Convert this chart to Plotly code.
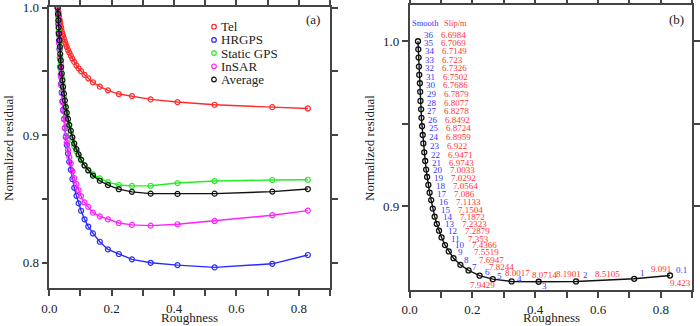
import plotly.graph_objects as go

# ---------------- data ----------------
smooth_labels = ["36", "35", "34", "33", "32", "31", "30", "29", "28", "27", "26", "25",
                 "24", "23", "22", "21", "20", "19", "18", "17", "16", "15", "14", "13",
                 "12", "11", "10", "9", "8", "7", "6", "5", "4", "3", "2", "1", "0.1"]
slip_labels = ["6.6984", "6.7069", "6.7149", "6.723", "6.7326", "6.7502", "6.7686", "6.7879",
               "6.8077", "6.8278", "6.8492", "6.8724", "6.8959", "6.922", "6.9471", "6.9743",
               "7.0033", "7.0292", "7.0564", "7.086", "7.1133", "7.1504", "7.1872", "7.2323",
               "7.2879", "7.353", "7.4366", "7.5519", "7.6947", "7.8244", "7.9429", "8.0017",
               "8.0714", "8.1901", "8.5105", "9.091", "9.423"]
roughness = [0.027, 0.028, 0.029, 0.030, 0.031, 0.033, 0.034, 0.035, 0.037, 0.038, 0.040, 0.042,
             0.044, 0.047, 0.050, 0.053, 0.056, 0.060, 0.064, 0.069, 0.074, 0.080, 0.087, 0.094,
             0.102, 0.113, 0.125, 0.140, 0.162, 0.188, 0.223, 0.265, 0.325, 0.411, 0.530, 0.715, 0.829]
tel = [1.0, 0.9983, 0.9966, 0.9950, 0.9935, 0.9905, 0.9891, 0.9877, 0.9851, 0.9838, 0.9814, 0.9795,
       0.9779, 0.9755, 0.9733, 0.9713, 0.9693, 0.9669, 0.9648, 0.9624, 0.9600, 0.9575, 0.9547, 0.9525,
       0.9502, 0.9474, 0.9446, 0.9415, 0.9381, 0.9352, 0.9323, 0.9307, 0.9281, 0.9260, 0.9239, 0.9220, 0.9210]
hrgps = [1.0, 0.9939, 0.9876, 0.9806, 0.9743, 0.9677, 0.9610, 0.9539, 0.9473, 0.9405, 0.9337, 0.9267,
         0.9199, 0.9127, 0.9056, 0.8985, 0.8923, 0.8857, 0.8792, 0.8729, 0.8657, 0.8588, 0.8525, 0.8466,
         0.8408, 0.8341, 0.8284, 0.8230, 0.8165, 0.8105, 0.8069, 0.8027, 0.8000, 0.7982, 0.7964, 0.7992, 0.8061]
static_gps = [1.0, 0.9947, 0.9893, 0.9835, 0.9782, 0.9728, 0.9673, 0.9616, 0.9563, 0.9509, 0.9457, 0.9403,
              0.9351, 0.9296, 0.9243, 0.9191, 0.9147, 0.9100, 0.9054, 0.9011, 0.8961, 0.8914, 0.8876, 0.8840,
              0.8803, 0.8764, 0.8728, 0.8694, 0.8662, 0.8632, 0.8610, 0.8603, 0.8604, 0.8625, 0.8641, 0.8649, 0.8651]
insar = [1.0, 0.9935, 0.9869, 0.9793, 0.9724, 0.9670, 0.9600, 0.9530, 0.9460, 0.9392, 0.9328, 0.9259,
         0.9191, 0.9126, 0.9060, 0.8995, 0.8941, 0.8886, 0.8830, 0.8780, 0.8718, 0.8663, 0.8616, 0.8569,
         0.8523, 0.8473, 0.8438, 0.8393, 0.8364, 0.8340, 0.8312, 0.8297, 0.8291, 0.8302, 0.8328, 0.8373, 0.8409]
average = [1.0, 0.9951, 0.9901, 0.9846, 0.9796, 0.9745, 0.9693, 0.9638, 0.9587, 0.9535, 0.9484, 0.9431,
           0.9380, 0.9326, 0.9273, 0.9221, 0.9176, 0.9128, 0.9081, 0.9036, 0.8984, 0.8935, 0.8891, 0.8850,
           0.8809, 0.8763, 0.8724, 0.8683, 0.8643, 0.8609, 0.8577, 0.8556, 0.8542, 0.8540, 0.8542, 0.8558, 0.8578]
series_names = ["Tel", "HRGPS", "Static GPS", "InSAR", "Average"]
x_tick_vals = [0.0, 0.1, 0.2, 0.3, 0.4, 0.5, 0.6, 0.7, 0.8, 0.9]
x_tick_text = ["0.0", "", "0.2", "", "0.4", "", "0.6", "", "0.8", ""]

# ---------------- style ----------------
W, H = 700, 326
FONT = "Liberation Serif"
colors = ["#ff2a2a", "#2a2aff", "#22ee22", "#ff22ff", "#111111"]
LBL_BLUE = "#3535ff"
LBL_RED = "#ff3535"
TXT = "#222"


def px(x):
    return x / W


def py(y):
    return 1 - y / H


fig = go.Figure()

series = [tel, hrgps, static_gps, insar, average]
for name, vals, c in zip(series_names, series, colors):
    fig.add_trace(go.Scatter(
        x=roughness, y=vals, mode="lines+markers", name=name, showlegend=False,
        line=dict(color=c, width=1.4),
        marker=dict(symbol="circle-open", size=5, color=c, line=dict(width=1.2, color=c)),
        xaxis="x", yaxis="y"))

fig.add_trace(go.Scatter(
    x=roughness, y=average, mode="lines+markers", showlegend=False,
    line=dict(color="#111111", width=1.4),
    marker=dict(symbol="circle-open", size=5, color="#111111", line=dict(width=1.3, color="#111111")),
    xaxis="x2", yaxis="y2"))

axis_common = dict(showline=True, linecolor="#444", linewidth=1.5, mirror="ticks",
                   ticks="outside", ticklen=6, tickwidth=1.5, tickcolor="#444",
                   showgrid=False, zeroline=False, automargin=False,
                   tickfont=dict(family=FONT, size=13, color=TXT))

fig.update_layout(
    template="none",
    width=W, height=H,
    margin=dict(l=0, r=0, t=0, b=0, pad=0),
    paper_bgcolor="white", plot_bgcolor="white",
    font=dict(family=FONT, size=13, color=TXT),
    showlegend=False,
    xaxis=dict(domain=[px(49.3), px(330)], range=[0, 0.9], ticklabelstandoff=1,
               tickvals=x_tick_vals, ticktext=x_tick_text, anchor="y", **axis_common),
    yaxis=dict(domain=[py(288.3), py(7.3)], range=[0.78, 1.0003],
               tickvals=[0.8, 0.85, 0.9, 0.95, 1.0], ticktext=["0.8", "", "0.9", "", "1.0"],
               anchor="x", **axis_common),
    xaxis2=dict(domain=[px(409.5), px(692.3)], range=[0, 0.9], ticklabelstandoff=1,
                tickvals=x_tick_vals, ticktext=x_tick_text, anchor="y2", **axis_common),
    yaxis2=dict(domain=[py(290), py(5)], range=[0.849, 1.022],
                tickvals=[0.9, 0.95, 1.0], ticktext=["0.9", "", "1.0"],
                anchor="x2", **axis_common),
)


def paper_text(x, y, text, size=13, color=TXT, xanchor="center", angle=0):
    return dict(x=px(x), y=py(y), xref="paper", yref="paper", text=text, textangle=angle,
                xanchor=xanchor, yanchor="middle", showarrow=False,
                font=dict(family=FONT, size=size, color=color))


ann = []
shapes = []
# axis titles
for cx in (8, 369):
    ann.append(paper_text(cx, 148, "Normalized residual", angle=-90))
for cx in (190, 551):
    ann.append(paper_text(cx, 317.5, "Roughness"))
ann.append(paper_text(312.5, 20, "(a)"))
ann.append(paper_text(676.7, 20, "(b)"))

# manual legend for panel (a)
for i, (name, c) in enumerate(zip(series_names, colors)):
    yy = 26.7 + 13.2 * i
    shapes.append(dict(type="circle", xref="paper", yref="paper",
                       xsizemode="pixel", ysizemode="pixel",
                       xanchor=px(214), yanchor=py(yy),
                       x0=-2.3, x1=2.3, y0=-2.3, y1=2.3,
                       line=dict(color=c, width=1.2)))
    ann.append(paper_text(218.5, yy, name, xanchor="left"))

# headers in panel (b)
ann.append(paper_text(425.5, 22.7, "Smooth", size=8.5, color=LBL_BLUE))
ann.append(paper_text(455.5, 22.7, "Slip/m", size=8.5, color=LBL_RED))

# label placements (pixel offsets from each marker)
smooth_off = {"9": (3, 6), "8": (2, 4.5), "7": (1, 3.5), "6": (3, 3.5), "5": (2, 3.5),
              "4": (3, 2), "3": (1, -4), "2": (5, 6), "1": (4, 6), "0.1": (4, 5.5)}
slip_off = {"9": ("left", 19, 6), "8": ("left", 17, 4.5), "7": ("left", 18, 3.5),
            "6": ("center", 3, -9), "5": ("center", 25, 6), "4": ("center", 33, 6.5),
            "3": ("center", 29.5, 7.5), "2": ("center", 31, 7), "1": ("center", 27, 9.5),
            "0.1": ("center", 10.5, -7.5)}
for s, sl, xv, yv in zip(smooth_labels, slip_labels, roughness, average):
    dx, dy = smooth_off.get(s, (4, 6.5))
    ann.append(dict(x=xv, y=yv, xref="x2", yref="y2", text=s, showarrow=False,
                    xanchor="left", yanchor="middle", xshift=dx, yshift=dy,
                    font=dict(family=FONT, size=9, color=LBL_BLUE)))
    anc, sx, sy = slip_off.get(s, ("left", 21, 6.5))
    ann.append(dict(x=xv, y=yv, xref="x2", yref="y2", text=sl, showarrow=False,
                    xanchor=anc, yanchor="middle", xshift=sx, yshift=sy,
                    font=dict(family=FONT, size=9, color=LBL_RED)))

fig.update_layout(annotations=ann, shapes=shapes)
fig.write_html("out.html", config={"displayModeBar": False},
               post_script="document.body.style.margin='0px';document.body.style.padding='0px';")
